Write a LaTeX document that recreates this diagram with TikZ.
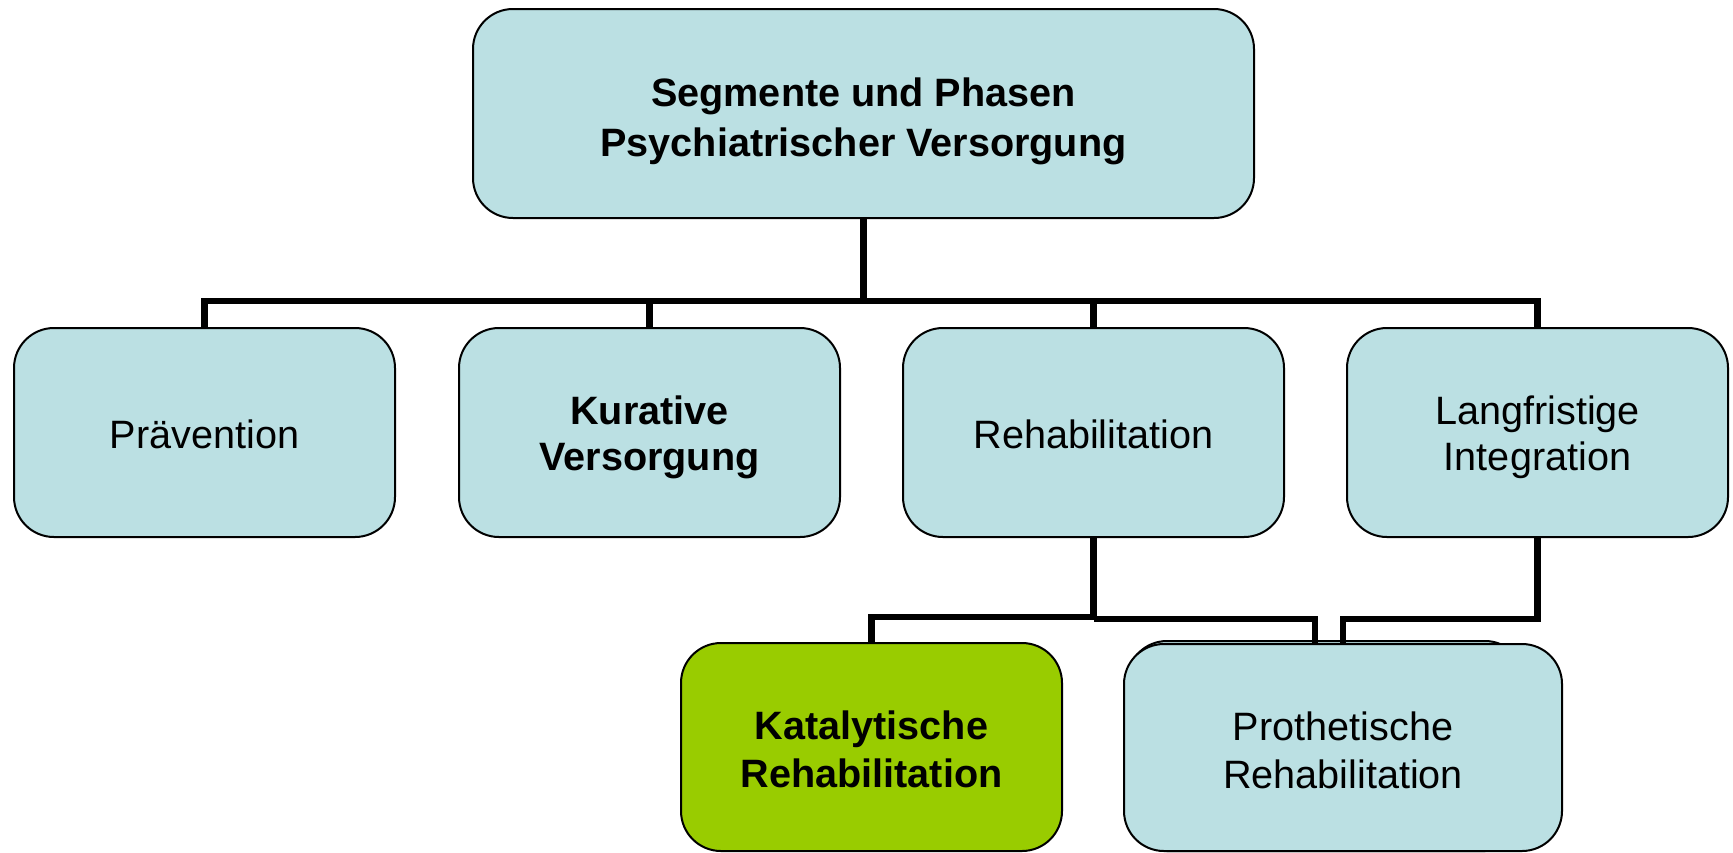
\documentclass[tikz,border=0pt]{standalone}
\usepackage{fontspec}
\setmainfont{Liberation Sans}
\definecolor{boxblue}{HTML}{BBE0E3}
\definecolor{boxgreen}{HTML}{99CC00}
\newcommand\mytxt[3][-3.2pt]{\raisebox{#1}[\height][\depth]{\fontsize{19.8}{#2}\selectfont\begin{tabular}{@{}c@{}}#3\end{tabular}}}
\begin{document}
\begin{tikzpicture}[x=0.5pt,y=-0.5pt,
  box/.style={draw=black, line width=1pt, fill=boxblue, rounded corners=20pt,
    minimum width=190.5pt, minimum height=104.5pt, align=center, inner sep=0pt,
    font=\fontsize{19.8}{22.8}\selectfont},
  conn/.style={draw=black, line width=3.2pt}]
\useasboundingbox (0,0) rectangle (1733,852);
% nodes
\node[box, minimum width=390.5pt] (top) at (863.5,113.5) {\mytxt[-3.9pt]{24.8pt}{\textbf{Segmente und Phasen}\\\textbf{Psychiatrischer Versorgung}}};
\node[box] (prav) at (204.5,432.5) {\mytxt[-3.3pt]{22.8pt}{Prävention}};
\node[box] (kur) at (649.5,432.5) {\mytxt[-3pt]{22.6pt}{\textbf{Kurative}\\\textbf{Versorgung}}};
\node[box] (rehab) at (1093.5,432.5) {\mytxt[-3.3pt]{22.8pt}{Rehabilitation}};
\node[box] (lang) at (1537.5,432.5) {\mytxt[-3pt]{22.6pt}{Langfristige\\ Integration}};
\node[box, fill=boxgreen, minimum height=104pt] (kat) at (871.5,747) {\mytxt[-3.6pt]{23.8pt}{\textbf{Katalytische}\\\textbf{Rehabilitation}}};
\draw[line width=1pt, fill=boxblue, rounded corners=20pt] (1127,641) rectangle (1525,851);
\node[box, minimum width=219pt, minimum height=103.5pt] (prot) at (1343,747.5) {\mytxt[-3.6pt]{23.8pt}{Prothetische\\ Rehabilitation}};
% coordinates
\coordinate (bus) at (863.5,301);
\coordinate (rj) at (1093.5,617);
\coordinate (protL) at (1315,643);
\coordinate (protR) at (1343,643);
% connectors
\draw[conn] (top.south) -- (bus);
\draw[conn] (prav.north) |- (bus) -| (lang.north);
\draw[conn] (kur.north) -- (kur.north |- bus);
\draw[conn] (rehab.north) -- (rehab.north |- bus);
\draw[conn] (rehab.south) |- (rj) -| (kat.north);
\draw[conn] (rj) ++(0,2) -| (protL);
\draw[conn] (lang.south) |- ([yshift=-1pt]protR |- rj) -- (protR);
\end{tikzpicture}
\end{document}
